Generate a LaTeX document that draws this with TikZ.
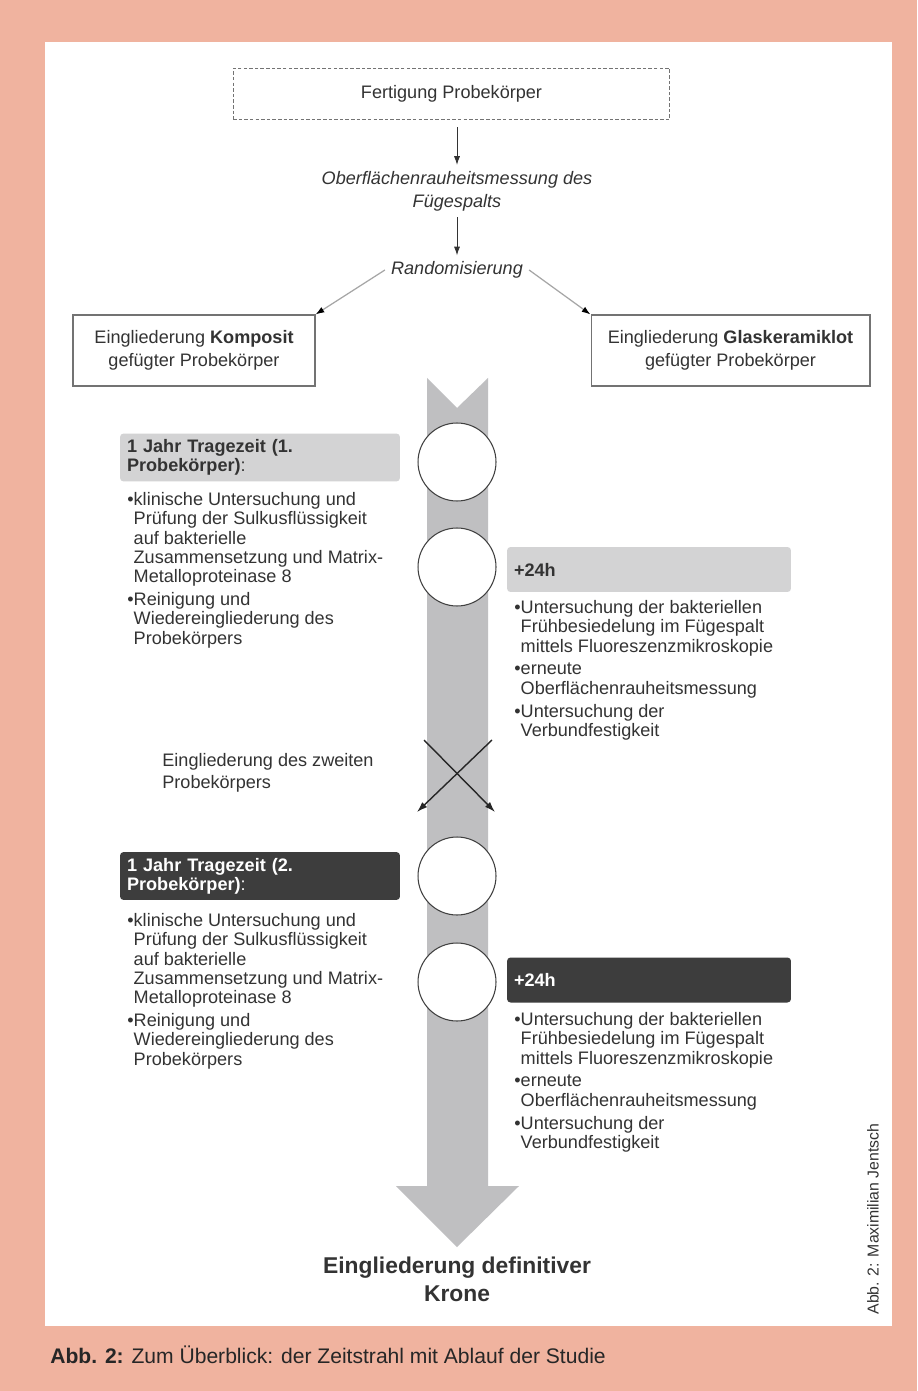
\documentclass[tikz,border=0pt]{standalone}
\usepackage{fontspec}
\setmainfont{Liberation Sans}
\usetikzlibrary{arrows.meta,positioning}

\definecolor{salmon}{HTML}{F0B39F}
\definecolor{txtgray}{HTML}{333333}
\definecolor{barlight}{HTML}{D3D3D4}
\definecolor{bardark}{HTML}{3D3D3D}
\definecolor{shaftgray}{HTML}{BFBFC1}

\newcommand{\bodyfont}{\fontsize{10.3}{11}\selectfont}
\newcommand{\bulind}{\hphantom{•}}

\begin{document}
\begin{tikzpicture}[x=0.02cm,y=-0.02cm,
	every node/.style={text=txtgray, font=\bodyfont},
	plain/.style={inner sep=0pt, align=left, anchor=north west},
	framebox/.style={draw=black!55, line width=0.6pt, align=center},
	bar/.style={rounded corners=2pt, minimum height=0.9cm, text width=5.32cm, inner xsep=0.14cm, align=left},
	station/.style={shape=circle, draw=black!75, fill=white, line width=0.6pt, minimum size=1.56cm, inner sep=0pt},
	flow/.style={-{Latex[length=5pt,width=3.5pt]}, draw=black!80, line width=0.5pt},
	split/.style={-{Latex[black,length=5pt,width=3.5pt]}, draw=black!35, line width=0.7pt},
	swap/.style={-{Latex[length=6pt,width=4pt]}, draw=black!85, line width=0.8pt}]

	% page and panel
	\useasboundingbox (0,0) rectangle (917,1391);
	\fill[salmon] (0,0) rectangle (917,1391);
	\fill[white] (45,42) rectangle (892,1326);

	% time line
	\fill[shaftgray] (427,378) -- (457,408) -- (488,378) -- (488,1186) -- (519,1186)
		-- (457,1247) -- (396,1186) -- (427,1186) -- cycle;

	% preparation
	\path (451.5,94) node (fert) [framebox, dashed, dash pattern=on 2pt off 1.2pt, minimum width=8.74cm, minimum height=1.02cm] {Fertigung Probekörper}
		  (457,191) node (ober) [align=center, font=\bodyfont\itshape] {Oberflächenrauheitsmessung des\\[2pt]Fügespalts}
		  (457,270) node (rand) [font=\bodyfont\itshape] {Randomisierung}
		  (194,350.5) node (komp) [framebox, minimum width=4.84cm, minimum height=1.42cm] {Eingliederung \textbf{Komposit}\\[2pt]gefügter Probekörper}
		  (730.5,350.5) node (glas) [framebox, minimum width=5.58cm, minimum height=1.42cm] {Eingliederung \textbf{Glaskeramiklot}\\[2pt]gefügter Probekörper};
	\draw[flow, shorten <=4pt] (fert.south -| ober) -- (ober);
	\draw[flow] (ober) -- (rand);
	\draw[split] (rand.west) -- (komp.north east);
	\draw[split] (rand.east) -- (glas.north west);

	% stations on the time line
	\foreach \y/\n in {462/c1, 567/c2, 876/c3, 982/c4}
		\node (\n) [station] at (457,\y) {};

	% first specimen
	\node (h1) [bar, fill=barlight] at (260,457.5) {\textbf{1 Jahr Tragezeit (1.}\\\textbf{Probekörper)}:};
	\node (b1) [plain] at (127,492) {•klinische Untersuchung und\\
		\bulind Prüfung der Sulkusflüssigkeit\\
		\bulind auf bakterielle\\
		\bulind Zusammensetzung und Matrix-\\
		\bulind Metalloproteinase 8\\[2pt]
		•Reinigung und\\
		\bulind Wiedereingliederung des\\
		\bulind Probekörpers};
	\node (p1) [bar, fill=barlight, text width=5.4cm] at (649,569.5) {\textbf{+24h}};
	\node (r1) [plain] at (514,600) {•Untersuchung der bakteriellen\\
		\bulind Frühbesiedelung im Fügespalt\\
		\bulind mittels Fluoreszenzmikroskopie\\[2pt]
		•erneute\\
		\bulind Oberflächenrauheitsmessung\\[2pt]
		•Untersuchung der\\
		\bulind Verbundfestigkeit};

	% change of specimen
	\node (zweit) [plain] at (162,753) {Eingliederung des zweiten\\[1.5pt]Probekörpers};
	\coordinate (xa) at (424,740);
	\coordinate (xb) at (495,812);
	\coordinate (xc) at (492,740);
	\coordinate (xd) at (417,812);
	\draw[swap] (xa) -- (xb);
	\draw[swap] (xc) -- (xd);

	% second specimen
	\node (h2) [bar, fill=bardark, text=white] at (260,876) {\textbf{1 Jahr Tragezeit (2.}\\\textbf{Probekörper)}:};
	\node (b2) [plain] at (127,913) {•klinische Untersuchung und\\
		\bulind Prüfung der Sulkusflüssigkeit\\
		\bulind auf bakterielle\\
		\bulind Zusammensetzung und Matrix-\\
		\bulind Metalloproteinase 8\\[2pt]
		•Reinigung und\\
		\bulind Wiedereingliederung des\\
		\bulind Probekörpers};
	\node (p2) [bar, fill=bardark, text=white, text width=5.4cm] at (649,980) {\textbf{+24h}};
	\node (r2) [plain] at (514,1012) {•Untersuchung der bakteriellen\\
		\bulind Frühbesiedelung im Fügespalt\\
		\bulind mittels Fluoreszenzmikroskopie\\[2pt]
		•erneute\\
		\bulind Oberflächenrauheitsmessung\\[2pt]
		•Untersuchung der\\
		\bulind Verbundfestigkeit};

	% end of the study
	\node (krone) [align=center, font=\fontsize{13}{16}\selectfont\bfseries] at (457,1279) {Eingliederung definitiver\\Krone};

	% caption and credit
	\node (caption) [anchor=west, inner sep=0pt, text=black!85, font=\fontsize{12}{14}\selectfont] at (50,1355) {\textbf{Abb. 2:} Zum Überblick: der Zeitstrahl mit Ablauf der Studie};
	\node (credit) [rotate=90, inner sep=0pt, text=black!80, font=\fontsize{9}{11}\selectfont] at (873,1219) {Abb. 2: Maximilian Jentsch};
\end{tikzpicture}
\end{document}
